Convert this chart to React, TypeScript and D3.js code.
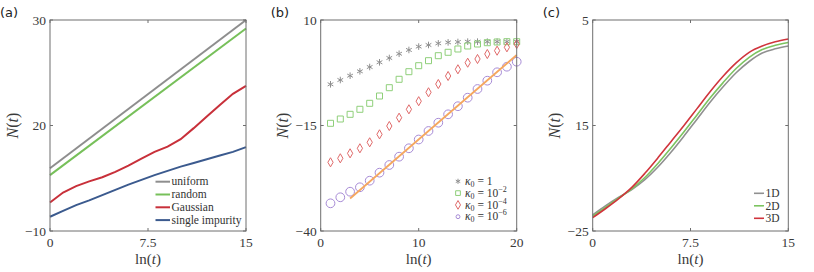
import React from "react";
import * as d3 from "d3";

const W = 814;
const H = 272;
const TOP = 20;
const BOTTOM = 231;
const serif = "'Liberation Serif', 'Times New Roman', serif";
const sans = "'DejaVu Sans', 'Noto Sans', sans-serif";

// ---- panel (a) ----
const aX = [0, 1, 2, 3, 4, 5, 6, 7, 8, 9, 10, 11, 12, 13, 14, 15];
const aLineX = [0, 15];
const aUniform = [1.9, 30];
const aRandom = [0.6, 28.4];
const aGaussian = [-4.6, -2.7, -1.5, -0.6, 0.2, 1.2, 2.4, 3.7, 5.0, 6.0, 7.4, 9.5, 11.7, 13.9, 16.0, 17.5];
const aImpurity = [-7.3, -6.2, -5.1, -4.2, -3.2, -2.2, -1.2, -0.3, 0.6, 1.4, 2.2, 2.9, 3.6, 4.3, 5.0, 5.9];
const aNames = ["uniform", "random", "Gaussian", "single impurity"];
const aColors = ["#8e8e8e", "#77c05a", "#c8303a", "#3b5a8e"];

// ---- panel (b) ----
const bX = [1, 2, 3, 4, 5, 6, 7, 8, 9, 10, 11, 12, 13, 14, 15, 16, 17, 18, 19, 20];
const bK0 = [-5.24, -4.22, -3.2, -2.16, -1.14, -0.02, 1.0, 2.0, 2.9, 3.7, 4.08, 4.47, 4.7, 4.79, 4.87, 4.87, 4.87, 4.87, 4.87, 4.87];
const bK2 = [-14.48, -13.46, -12.35, -11.16, -9.74, -8.01, -6.04, -4.05, -2.25, -0.83, 0.36, 1.54, 2.35, 3.13, 3.84, 4.31, 4.62, 4.79, 4.86, 4.86];
const bK4 = [-23.72, -22.77, -21.59, -20.4, -18.98, -17.09, -15.12, -13.15, -11.16, -9.24, -7.13, -5.17, -3.27, -1.68, -0.12, 0.76, 1.94, 2.73, 3.53, 4.31];
const bK6 = [-33.44, -32.01, -30.69, -29.64, -28.08, -26.18, -24.36, -22.39, -20.4, -18.32, -16.3, -14.34, -12.35, -10.43, -8.41, -6.35, -4.38, -2.39, -1.07, 0.12];
const bFitX = [3, 20];
const bFit = [-32.3, 1.7];
const bExps = ["", "−2", "−4", "−6"];
const bColors = ["#8f8f8f", "#8fcf7a", "#e06a6a", "#a78bd6"];
const fitColor = "#f5a75e";

// ---- panel (c) ----
const cX = [0, 1, 2, 3, 4, 5, 6, 7, 8, 9, 10, 11, 12, 13, 14, 15];
const c1D = [-22.7, -21.4, -20.2, -19.1, -17.7, -15.9, -13.8, -11.5, -9.1, -6.7, -4.5, -2.5, -0.9, 0.3, 0.9, 1.3];
const c2D = [-22.9, -21.6, -20.3, -19.0, -17.4, -15.4, -13.2, -10.9, -8.5, -6.1, -3.9, -1.9, -0.3, 0.8, 1.4, 1.8];
const c3D = [-23.1, -21.8, -20.4, -18.8, -16.8, -14.6, -12.3, -10.0, -7.6, -5.2, -3.0, -1.1, 0.4, 1.3, 1.9, 2.3];
const cNames = ["1D", "2D", "3D"];
const cColors = ["#909090", "#7cc460", "#d0343c"];

function Axes({ x, y, xTicks, xLabels, yTicks, yLabels, tag }: any) {
  const [l, r] = x.range();
  const [b, t] = y.range();
  const tk = 3;
  return (
    <g>
      <rect x={l} y={t} width={r - l} height={b - t} fill="none" stroke="#6e6e6e" strokeWidth={1} />
      {xTicks.map((v: number, i: number) => (
        <g key={"x" + i}>
          <line x1={x(v)} x2={x(v)} y1={b} y2={b - tk} stroke="#6e6e6e" />
          <line x1={x(v)} x2={x(v)} y1={t} y2={t + tk} stroke="#6e6e6e" />
          <text x={x(v)} y={b + 15.5} textAnchor="middle" fontFamily={serif} fontSize={13.5} fill="#3a3a3a">
            {xLabels[i]}
          </text>
        </g>
      ))}
      {yTicks.map((v: number, i: number) => (
        <g key={"y" + i}>
          <line x1={l} x2={l + tk} y1={y(v)} y2={y(v)} stroke="#6e6e6e" />
          <line x1={r} x2={r - tk} y1={y(v)} y2={y(v)} stroke="#6e6e6e" />
          <text x={l - 4} y={y(v)} dy="0.35em" textAnchor="end" fontFamily={serif} fontSize={13.5} fill="#3a3a3a">
            {yLabels[i]}
          </text>
        </g>
      ))}
      <text x={(l + r) / 2} y={263.5} textAnchor="middle" fontFamily={serif} fontSize={15} fill="#3a3a3a">
        ln(<tspan fontStyle="italic">t</tspan>)
      </text>
      <text
        transform={`translate(${l - 38},${(t + b) / 2}) rotate(-90)`}
        dy="0.35em"
        textAnchor="middle"
        fontFamily={serif}
        fontSize={16}
        fill="#3a3a3a"
      >
        <tspan fontStyle="italic">N</tspan>(<tspan fontStyle="italic">t</tspan>)
      </text>
      <text x={l - 50} y={17} fontFamily={sans} fontSize={13} fill="#222">
        {tag}
      </text>
    </g>
  );
}

function PanelA() {
  const x = d3.scaleLinear().domain([0, 15]).range([50, 246]);
  const y = d3.scaleLinear().domain([-10, 30]).range([BOTTOM, TOP]);
  const line = d3.line<[number, number]>().x((d) => x(d[0])).y((d) => y(d[1]));
  const series: [number[], number[]][] = [
    [aLineX, aUniform],
    [aLineX, aRandom],
    [aX, aGaussian],
    [aX, aImpurity],
  ];
  return (
    <g>
      {series.map(([xs, ys], i) => (
        <path
          key={i}
          d={line(xs.map((v, j) => [v, ys[j]]) as [number, number][]) || ""}
          fill="none"
          stroke={aColors[i]}
          strokeWidth={2}
        />
      ))}
      {aNames.map((n, i) => (
        <g key={n}>
          <line x1={155.5} x2={170} y1={181.7 + i * 12.8} y2={181.7 + i * 12.8} stroke={aColors[i]} strokeWidth={2} />
          <text x={171.5} y={181.7 + i * 12.8} dy="0.33em" fontFamily={serif} fontSize={11.5} fill="#333">
            {n}
          </text>
        </g>
      ))}
      <Axes x={x} y={y} xTicks={[0, 7.5, 15]} xLabels={["0", "7.5", "15"]} yTicks={[-10, 10, 30]} yLabels={["−10", "20", "30"]} tag="(a)" />
    </g>
  );
}

function PanelB() {
  const x = d3.scaleLinear().domain([0, 20]).range([320.7, 516.7]);
  const y = d3.scaleLinear().domain([-40, 10]).range([BOTTOM, TOP]);
  const line = d3.line<[number, number]>().x((d) => x(d[0])).y((d) => y(d[1]));
  const sets = [bK0, bK2, bK4, bK6];
  const shapes = [
    d3.symbol(d3.symbolAsterisk, 30)(),
    d3.symbol(d3.symbolSquare, 36)(),
    d3.symbol(d3.symbolDiamond, 24)(),
    d3.symbol(d3.symbolCircle, 60)(),
  ];
  const legendShapes = [
    d3.symbol(d3.symbolAsterisk, 18)(),
    d3.symbol(d3.symbolSquare, 22)(),
    d3.symbol(d3.symbolDiamond, 22)(),
    d3.symbol(d3.symbolCircle, 12)(),
  ];
  return (
    <g>
      {sets.map((ys, s) =>
        bX.map((v, j) => (
          <path
            key={s + "-" + j}
            d={shapes[s] || ""}
            transform={`translate(${x(v)},${y(ys[j])})`}
            fill="none"
            stroke={bColors[s]}
            strokeWidth={1}
          />
        ))
      )}
      <path
        d={line(bFitX.map((v, j) => [v, bFit[j]]) as [number, number][]) || ""}
        fill="none"
        stroke={fitColor}
        strokeWidth={1.8}
      />
      {bExps.map((e, i) => {
        const yy = 181.3 + i * 11.8;
        return (
          <g key={i}>
            <path d={legendShapes[i] || ""} transform={`translate(458,${yy})`} fill="none" stroke={bColors[i]} strokeWidth={1} />
            <text x={465} y={yy} dy="0.33em" fontFamily={serif} fontSize={11.5} fill="#333">
              <tspan fontStyle="italic">κ</tspan>
              <tspan fontSize={8} dy="2">0</tspan>
              <tspan dy="-2"> = {e ? "10" : "1"}</tspan>
              {e ? (
                <tspan fontSize={8} dy="-5">
                  {e}
                </tspan>
              ) : null}
            </text>
          </g>
        );
      })}
      <Axes x={x} y={y} xTicks={[0, 10, 20]} xLabels={["0", "10", "20"]} yTicks={[-40, -15, 10]} yLabels={["−40", "−15", "10"]} tag="(b)" />
    </g>
  );
}

function PanelC() {
  const x = d3.scaleLinear().domain([0, 15]).range([592.7, 788.3]);
  const y = d3.scaleLinear().domain([-25, 5]).range([BOTTOM, TOP]);
  const line = d3
    .line<[number, number]>()
    .x((d) => x(d[0]))
    .y((d) => y(d[1]))
    .curve(d3.curveMonotoneX);
  const sets = [c1D, c2D, c3D];
  return (
    <g>
      {sets.map((ys, i) => (
        <path
          key={i}
          d={line(cX.map((v, j) => [v, ys[j]]) as [number, number][]) || ""}
          fill="none"
          stroke={cColors[i]}
          strokeWidth={1.6}
        />
      ))}
      {cNames.map((n, i) => (
        <g key={n}>
          <line x1={754} x2={764} y1={193.3 + i * 12.5} y2={193.3 + i * 12.5} stroke={cColors[i]} strokeWidth={1.6} />
          <text x={765.5} y={193.3 + i * 12.5} dy="0.33em" fontFamily={serif} fontSize={11.5} fill="#333">
            {n}
          </text>
        </g>
      ))}
      <Axes x={x} y={y} xTicks={[0, 7.5, 15]} xLabels={["0", "7.5", "15"]} yTicks={[-25, -10, 5]} yLabels={["−25", "15", "5"]} tag="(c)" />
    </g>
  );
}

export default function App() {
  return (
    <svg width={W} height={H} style={{ position: "absolute", left: 0, top: 0, background: "#fff" }}>
      <PanelA />
      <PanelB />
      <PanelC />
    </svg>
  );
}
